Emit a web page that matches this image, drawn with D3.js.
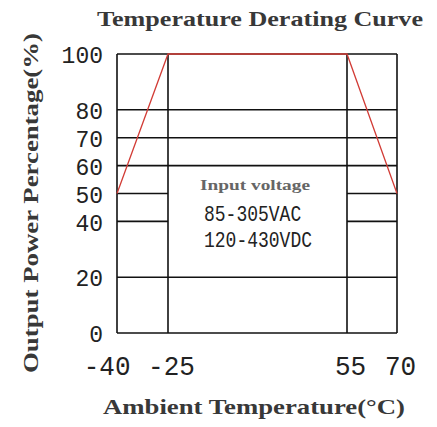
<!DOCTYPE html>
<html><head><meta charset="utf-8">
<script src="https://cdn.jsdelivr.net/npm/d3@7"></script>
<style>html,body{margin:0;padding:0;background:#fff;}</style>
</head><body>
<svg id="c" width="437" height="427"></svg>
<script>
// Data
const xTicks = [-40, -25, 55, 70];
const yTicks = [0, 20, 40, 50, 60, 70, 80, 100];
const splitLevels = [40, 50];          // grid levels interrupted by the note box
const curveTemp = [-40, -25, 55, 70];
const curvePower = [50, 100, 100, 50];
const titleText = "Temperature Derating Curve";
const xLabel = "Ambient Temperature(°C)";
const yLabel = "Output Power Percentage(%)";
const noteLines = ["85-305VAC", "120-430VDC"];
const noteTitle = "Input voltage";

const svg = d3.select("#c");
const x = d3.scaleLinear().domain(xTicks).range([117, 168, 347, 397]);
const y = d3.scaleLinear().domain([0, 100]).range([333, 54]);

const g = svg.append("g");
const stroke = "#111";
const sw = 1.6;

// horizontal grid lines
yTicks.forEach(v => {
  const segs = splitLevels.includes(v)
    ? [[xTicks[0], xTicks[1]], [xTicks[2], xTicks[3]]]
    : [[xTicks[0], xTicks[3]]];
  segs.forEach(([a, b]) => {
    g.append("line").attr("x1", x(a)).attr("x2", x(b)).attr("y1", y(v)).attr("y2", y(v))
      .attr("stroke", stroke).attr("stroke-width", sw);
  });
});
// vertical lines
xTicks.forEach(v => {
  g.append("line").attr("x1", x(v)).attr("x2", x(v)).attr("y1", y(0)).attr("y2", y(100))
    .attr("stroke", stroke).attr("stroke-width", sw);
});

// curve
const line = d3.line().x((d, i) => x(curveTemp[i])).y(d => y(d));
g.append("path").datum(curvePower).attr("d", line).attr("fill", "none")
  .attr("stroke", "#d23c36").attr("stroke-width", 1.3);

// tick labels
const mono = "'Liberation Mono', 'DejaVu Sans Mono', monospace";
function fit(sel, w) {
  sel.attr("textLength", function() { return this.textContent.length * w; })
     .attr("lengthAdjust", "spacingAndGlyphs");
}
const yAxis = d3.axisLeft(y).tickValues(yTicks).tickSize(0).tickPadding(14);
const ya = svg.append("g").attr("transform", `translate(${x(xTicks[0])},0)`).call(yAxis);
ya.select(".domain").remove();
ya.selectAll("text").attr("font-family", mono).attr("font-size", 24).attr("fill", "#222")
  .attr("dy", "0.36em").call(fit, 13.8);

const xAxis = d3.axisBottom(x).tickValues(xTicks).tickSize(0).tickPadding(0)
  .tickFormat(d => d < 0 ? "-" + Math.abs(d) : String(d));
const xa = svg.append("g").attr("transform", `translate(0,${y(0)})`).call(xAxis);
xa.select(".domain").remove();
xa.selectAll("text").attr("font-family", mono).attr("font-size", 28).attr("fill", "#222")
  .attr("y", 42).attr("dy", 0)
  .attr("text-anchor", (d, i) => i === 0 ? "end" : "middle")
  .attr("x", (d, i) => i === 0 ? 13 : 3)
  .call(fit, 15.6);

// title & axis titles
const serif = "'Liberation Serif', 'Times New Roman', serif";
function serifText(t, attrs, len, size) {
  const el = svg.append("text").attr("text-anchor", "middle")
    .attr("font-family", serif).attr("font-size", size).attr("font-weight", "bold")
    .attr("fill", "#383838").attr("textLength", len).attr("lengthAdjust", "spacingAndGlyphs").text(t);
  Object.entries(attrs).forEach(([k, v]) => el.attr(k, v));
  return el;
}
serifText(titleText, {x: 260, y: 26}, 326, 21);
serifText(xLabel, {x: 254, y: 414}, 302, 21);
serifText(yLabel, {transform: "translate(38,203) rotate(-90)"}, 340, 21);

// note
svg.append("text").attr("x", 255).attr("y", 190).attr("text-anchor", "middle")
  .attr("font-family", serif).attr("font-size", 15).attr("font-weight", "bold").attr("fill", "#666")
  .attr("textLength", 110).attr("lengthAdjust", "spacingAndGlyphs")
  .text(noteTitle);
noteLines.forEach((t, i) => {
  svg.append("text").attr("x", 204).attr("y", 221 + i * 26)
    .attr("font-family", mono).attr("font-size", 22).attr("fill", "#222")
    .attr("textLength", t.length * 10.8).attr("lengthAdjust", "spacingAndGlyphs")
    .text(t);
});
</script>
</body></html>
